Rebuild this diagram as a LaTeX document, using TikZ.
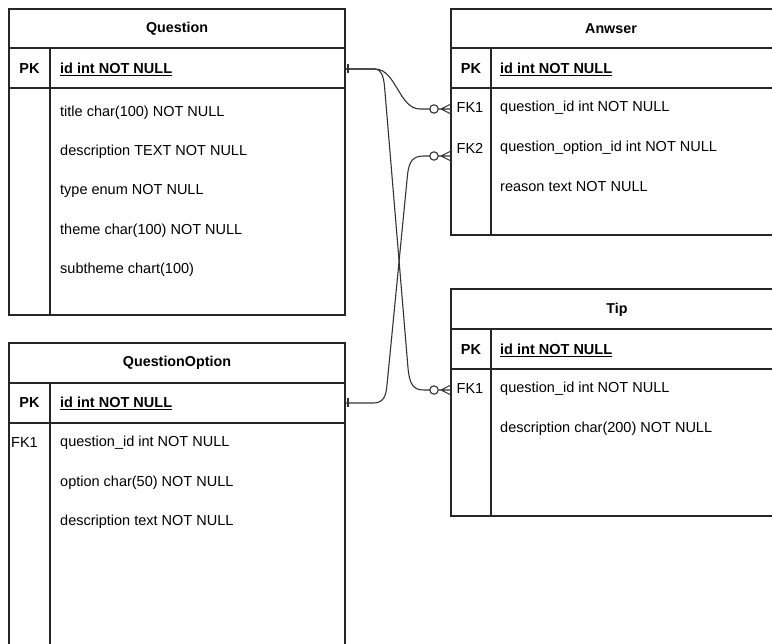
\documentclass[tikz,border=0pt]{standalone}
\usepackage{fontspec}
\setmainfont{Liberation Sans}
\usetikzlibrary{calc}
\begin{document}
\begin{tikzpicture}[x=1pt,y=-1pt,
  frame/.style={draw=black!85, line width=1.3pt},
  heading/.style={font=\fontsize{14.3}{16}\selectfont\bfseries, inner sep=0},
  keytxt/.style={font=\fontsize{14.5}{16}\selectfont, inner sep=0},
  pktxt/.style={font=\fontsize{14.5}{16}\selectfont\bfseries, inner sep=0},
  field/.style={font=\fontsize{14.5}{16}\selectfont, inner sep=0, anchor=west},
  pkfield/.style={font=\fontsize{14.5}{16}\selectfont\bfseries, inner sep=0, anchor=west},
  link/.style={draw=black!80, line width=1.1pt},
  zeromany/.pic={
    \draw[link] (-17,0) circle (4.2pt);
    \draw[link] (-12.8,0) -- (0,0) (-10,0) -- (0,-5) (-10,0) -- (0,5);
  },
  onebar/.pic={
    \draw[link] (3,-4.5) -- (3,4.5);
  },
]
\useasboundingbox (0,0) rectangle (772,644);
\clip (0,0) rectangle (772,644);

% ---- Question ----
\draw[frame] (9,9) rectangle (345,315);
\draw[frame] (9,48) -- (345,48) (9,88) -- (345,88) (50,48) -- (50,315);
\node[heading] (qtitle) at (177,29) {Question};
\node[pktxt] (qpkkey) at (29.5,69) {PK};
\node[pkfield] (qid) at (60,69) {\underline{id int NOT NULL}};
\node[field] (qf1) at (60,113) {title char(100) NOT NULL};
\node[field] (qf2) at (60,152) {description TEXT NOT NULL};
\node[field] (qf3) at (60,191) {type enum NOT NULL};
\node[field] (qf4) at (60,231) {theme char(100) NOT NULL};
\node[field] (qf5) at (60,270) {subtheme chart(100)};

% ---- QuestionOption ----
\draw[frame] (9,660) -- (9,343) -- (345,343) -- (345,660);
\draw[frame] (9,383) -- (345,383) (9,423) -- (345,423) (50,383) -- (50,660);
\node[heading] (otitle) at (177,363) {QuestionOption};
\node[pktxt] (opkkey) at (29.5,403) {PK};
\node[pkfield] (oid) at (60,403) {\underline{id int NOT NULL}};
\node[keytxt] (ofkkey) at (24.5,443) {FK1};
\node[field] (of1) at (60,443) {question\_id int NOT NULL};
\node[field] (of2) at (60,483) {option char(50) NOT NULL};
\node[field] (of3) at (60,522) {description text NOT NULL};

% ---- Anwser ----
\draw[frame] (790,9) -- (451,9) -- (451,235) -- (790,235);
\draw[frame] (451,48) -- (790,48) (451,88) -- (790,88) (491,48) -- (491,235);
\node[heading] (atitle) at (611,29) {Anwser};
\node[pktxt] (apkkey) at (471,69) {PK};
\node[pkfield] (aid) at (500,69) {\underline{id int NOT NULL}};
\node[keytxt] (afk1key) at (470,108) {FK1};
\node[field] (af1) at (500,108) {question\_id int NOT NULL};
\node[keytxt] (afk2key) at (470,148) {FK2};
\node[field] (af2) at (500,148) {question\_option\_id int NOT NULL};
\node[field] (af3) at (500,187) {reason text NOT NULL};

% ---- Tip ----
\draw[frame] (790,289) -- (451,289) -- (451,516) -- (790,516);
\draw[frame] (451,329) -- (790,329) (451,369) -- (790,369) (491,329) -- (491,516);
\node[heading] (ttitle) at (617,310) {Tip};
\node[pktxt] (tpkkey) at (471,350) {PK};
\node[pkfield] (tid) at (500,350) {\underline{id int NOT NULL}};
\node[keytxt] (tfk1key) at (470,389) {FK1};
\node[field] (tf1) at (500,389) {question\_id int NOT NULL};
\node[field] (tf2) at (500,429) {description char(200) NOT NULL};

% ---- attachment points ----
\coordinate (qpk) at (345,69);
\coordinate (opk) at (345,403);
\coordinate (afk1) at (451,109);
\coordinate (afk2) at (451,156);
\coordinate (tfk1) at (451,390);

% ---- relations ----
\pic at (qpk) {onebar};
\pic at (opk) {onebar};
\pic at (afk1) {zeromany};
\pic at (afk2) {zeromany};
\pic at (tfk1) {zeromany};

\draw[link] (qpk) -- (375,69) .. controls (396,69) and (399,109) .. (420,109)
  -- ($(afk1)+(-21.2,0)$);
\draw[link] (qpk) -- (375,69) .. controls (381,69) and (383.5,76) .. (384.5,86)
  -- (408,368) .. controls (409.5,384) and (413,390) .. (424,390)
  -- ($(tfk1)+(-21.2,0)$);
\draw[link] (opk) -- (373,403) .. controls (383,403) and (386,397) .. (387,385)
  -- (407.5,175) .. controls (409,161) and (413,156) .. (424,156)
  -- ($(afk2)+(-21.2,0)$);
\end{tikzpicture}
\end{document}
